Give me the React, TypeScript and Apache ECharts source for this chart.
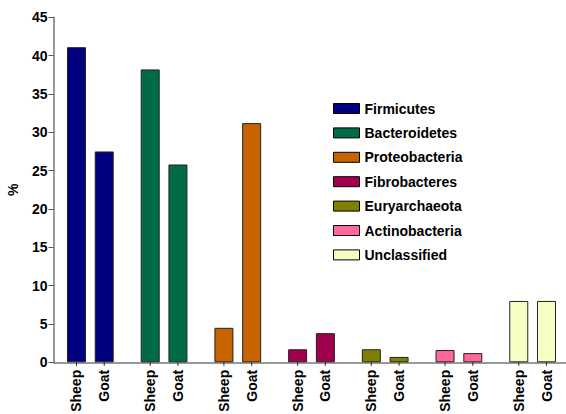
import React, { useEffect, useRef } from "react";
import * as echarts from "echarts";

const phyla = [
  "Firmicutes",
  "Bacteroidetes",
  "Proteobacteria",
  "Fibrobacteres",
  "Euryarchaeota",
  "Actinobacteria",
  "Unclassified",
];
const sheepValues = [41.1, 38.2, 4.5, 1.7, 1.7, 1.6, 8.0];
const goatValues = [27.5, 25.8, 31.2, 3.8, 0.7, 1.2, 8.0];
const hostLabels = ["Sheep", "Goat"];
const yTicks = { min: 0, max: 45, interval: 5 };

const palette = ["#000080", "#006B45", "#C86400", "#A0004C", "#808000", "#FF6699", "#F4FFC4"];

const FONT = "Liberation Sans, Arial, sans-serif";
const BAR_W = 19;
const BAR_GAP = 0.46;

export default function App() {
  const ref = useRef<HTMLDivElement>(null);

  useEffect(() => {
    document.body.style.margin = "0";
    const chart = echarts.init(ref.current!, null, { renderer: "svg" });

    const makeBarSeries = (name: string, values: number[]) => ({
      name,
      type: "bar",
      barWidth: BAR_W,
      barGap: `${BAR_GAP * 100}%`,
      data: values.map((v, i) => ({
        value: v,
        itemStyle: { color: palette[i] },
      })),
      itemStyle: { borderColor: "#222", borderWidth: 1 },
      label: {
        show: true,
        position: "bottom",
        distance: 7.5,
        rotate: 90,
        align: "right",
        verticalAlign: "middle",
        formatter: name,
        fontSize: 14,
        fontWeight: "bold",
        color: "#000",
        fontFamily: FONT,
      },
      emphasis: { disabled: true },
    });

    const legendSeries = phyla.map((p, i) => ({
      name: p,
      type: "line",
      data: [],
      color: palette[i],
      itemStyle: { color: palette[i] },
      showSymbol: false,
    }));

    const half = (BAR_W * 2 + BAR_W * BAR_GAP) / 2 - BAR_W / 2;
    const tickSeries = {
      type: "custom",
      name: "ticks",
      clip: false,
      silent: true,
      data: phyla.map((_, i) => [i, 0]),
      renderItem: (params: any, api: any) => {
        const p = api.coord([api.value(0), 0]);
        const mk = (x: number) => ({
          type: "line",
          shape: { x1: x, y1: p[1], x2: x, y2: p[1] + 3.5 },
          style: { stroke: "#222", lineWidth: 1 },
        });
        return { type: "group", children: [mk(p[0] - half), mk(p[0] + half)] };
      },
    };

    chart.setOption({
      animation: false,
      grid: {
        left: 53.5,
        top: 17.3,
        height: 345,
        width: 516,
        containLabel: false,
        outerBoundsMode: "none",
      },
      legend: {
        data: phyla,
        orient: "vertical",
        left: 328,
        top: 96.5,
        icon: "rect",
        itemWidth: 26,
        itemHeight: 10,
        itemGap: 10.4,
        selectedMode: false,
        itemStyle: { borderColor: "#000", borderWidth: 1 },
        textStyle: {
          fontFamily: FONT,
          fontSize: 14,
          fontWeight: "bold",
          color: "#000",
          lineHeight: 14,
        },
      },
      xAxis: {
        type: "category",
        data: phyla,
        axisLine: { show: true, lineStyle: { color: "#777", width: 1.5 } },
        axisTick: { show: false },
        axisLabel: { show: false },
        splitLine: { show: false },
      },
      yAxis: {
        type: "value",
        min: yTicks.min,
        max: yTicks.max,
        interval: yTicks.interval,
        name: "%",
        nameLocation: "middle",
        nameGap: 34,
        nameTextStyle: { fontFamily: FONT, fontSize: 14, fontWeight: "bold", color: "#000" },
        axisLine: { show: true, lineStyle: { color: "#777", width: 1.5 } },
        axisTick: { show: true, length: 5, lineStyle: { color: "#555", width: 1 } },
        axisLabel: { fontFamily: FONT, fontSize: 14, fontWeight: "bold", color: "#000", margin: 6 },
        splitLine: { show: false },
      },
      series: [
        makeBarSeries(hostLabels[0], sheepValues),
        makeBarSeries(hostLabels[1], goatValues),
        ...legendSeries,
        tickSeries,
      ],
    });

    return () => chart.dispose();
  }, []);

  return <div ref={ref} style={{ width: 566, height: 414 }} />;
}
